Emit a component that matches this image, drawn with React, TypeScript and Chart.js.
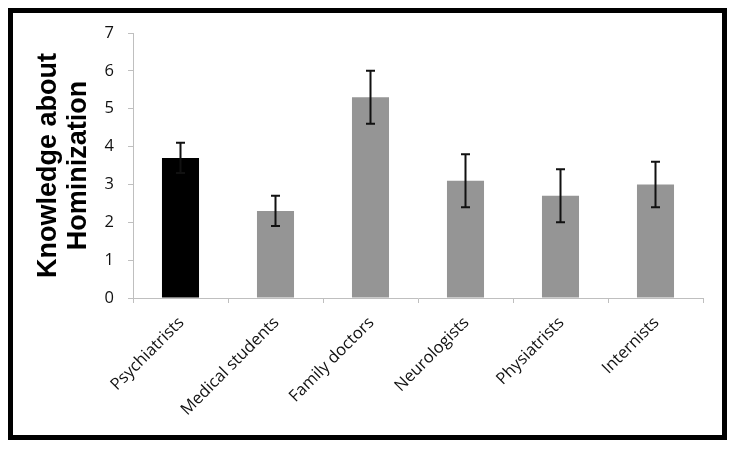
import React, { useEffect, useRef } from "react";
import { Chart, registerables } from "chart.js";

Chart.register(...registerables);

const categories = ["Psychiatrists", "Medical students", "Family doctors", "Neurologists", "Physiatrists", "Internists"];
const means = [3.7, 2.3, 5.3, 3.1, 2.7, 3.0];
const errLow = [3.3, 1.9, 4.6, 2.4, 2.0, 2.4];
const errHigh = [4.1, 2.7, 6.0, 3.8, 3.4, 3.6];
const barColors = ["#000000", "#959595", "#959595", "#959595", "#959595", "#959595"];
const yTicks = [0, 1, 2, 3, 4, 5, 6, 7];
const yTitle = ["Knowledge about", "Hominization"];

const errorBarPlugin = {
  id: "errorBars",
  afterDatasetsDraw(chart: any) {
    const ctx = chart.ctx;
    const x = chart.scales.x;
    const y = chart.scales.y;
    ctx.save();
    ctx.strokeStyle = "#111";
    ctx.lineWidth = 2;
    categories.forEach((_, i) => {
      const cx = x.getPixelForValue(i);
      const yl = y.getPixelForValue(errLow[i]);
      const yh = y.getPixelForValue(errHigh[i]);
      const cap = 4.5;
      ctx.beginPath();
      ctx.moveTo(cx, yl);
      ctx.lineTo(cx, yh);
      ctx.moveTo(cx - cap, yl);
      ctx.lineTo(cx + cap, yl);
      ctx.moveTo(cx - cap, yh);
      ctx.lineTo(cx + cap, yh);
      ctx.stroke();
    });
    ctx.restore();
  },
};

export default function App() {
  const ref = useRef<HTMLCanvasElement>(null);
  useEffect(() => {
    if (!ref.current) return;
    const chart = new Chart(ref.current, {
      type: "bar",
      data: {
        labels: categories,
        datasets: [
          {
            data: means,
            backgroundColor: barColors,
            borderWidth: 0,
            barPercentage: 0.39,
            categoryPercentage: 1,
          },
        ],
      },
      options: {
        responsive: false,
        animation: false,
        devicePixelRatio: 1,
        layout: { padding: { left: 0, top: 33, right: 33, bottom: 0 } },
        plugins: { legend: { display: false }, tooltip: { enabled: false } },
        scales: {
          x: {
            grid: { drawOnChartArea: false, drawTicks: true, tickLength: 5, color: "#bfbfbf", offset: true },
            border: { color: "#bfbfbf", width: 1 },
            ticks: {
              minRotation: 45,
              maxRotation: 45,
              autoSkip: false,
              padding: 10,
              labelOffset: 1,
              color: "#111",
              font: { family: "'Open Sans', sans-serif", size: 16.5 },
            },
            afterFit: (s: any) => {
              s.height = 152;
            },
          },
          y: {
            min: 0,
            max: 7,
            afterBuildTicks: (s: any) => {
              s.ticks = yTicks.map((v) => ({ value: v }));
            },
            grid: { drawOnChartArea: false, drawTicks: true, tickLength: 5, color: "#bfbfbf" },
            border: { color: "#bfbfbf", width: 1 },
            ticks: {
              padding: 14,
              color: "#111",
              font: { family: "'Open Sans', sans-serif", size: 16.5 },
            },
            title: {
              display: true,
              text: yTitle,
              color: "#000",
              padding: { top: 33, bottom: 0 },
              font: { family: "'Liberation Sans', Arial, sans-serif", size: 27, weight: "bold", lineHeight: 1.12 },
            },
            afterFit: (s: any) => {
              s.width = 133;
            },
          },
        },
      },
      plugins: [errorBarPlugin],
    });
    return () => chart.destroy();
  }, []);
  return (
    <div style={{ position: "fixed", left: 0, top: 0, width: 736, height: 450, background: "#fff" }}>
      <canvas ref={ref} width={736} height={450} style={{ position: "absolute", left: 0, top: 0 }} />
      <div
        style={{
          position: "absolute",
          left: 8,
          top: 8,
          width: 719,
          height: 432,
          boxSizing: "border-box",
          border: "5px solid #000",
          pointerEvents: "none",
        }}
      />
    </div>
  );
}
